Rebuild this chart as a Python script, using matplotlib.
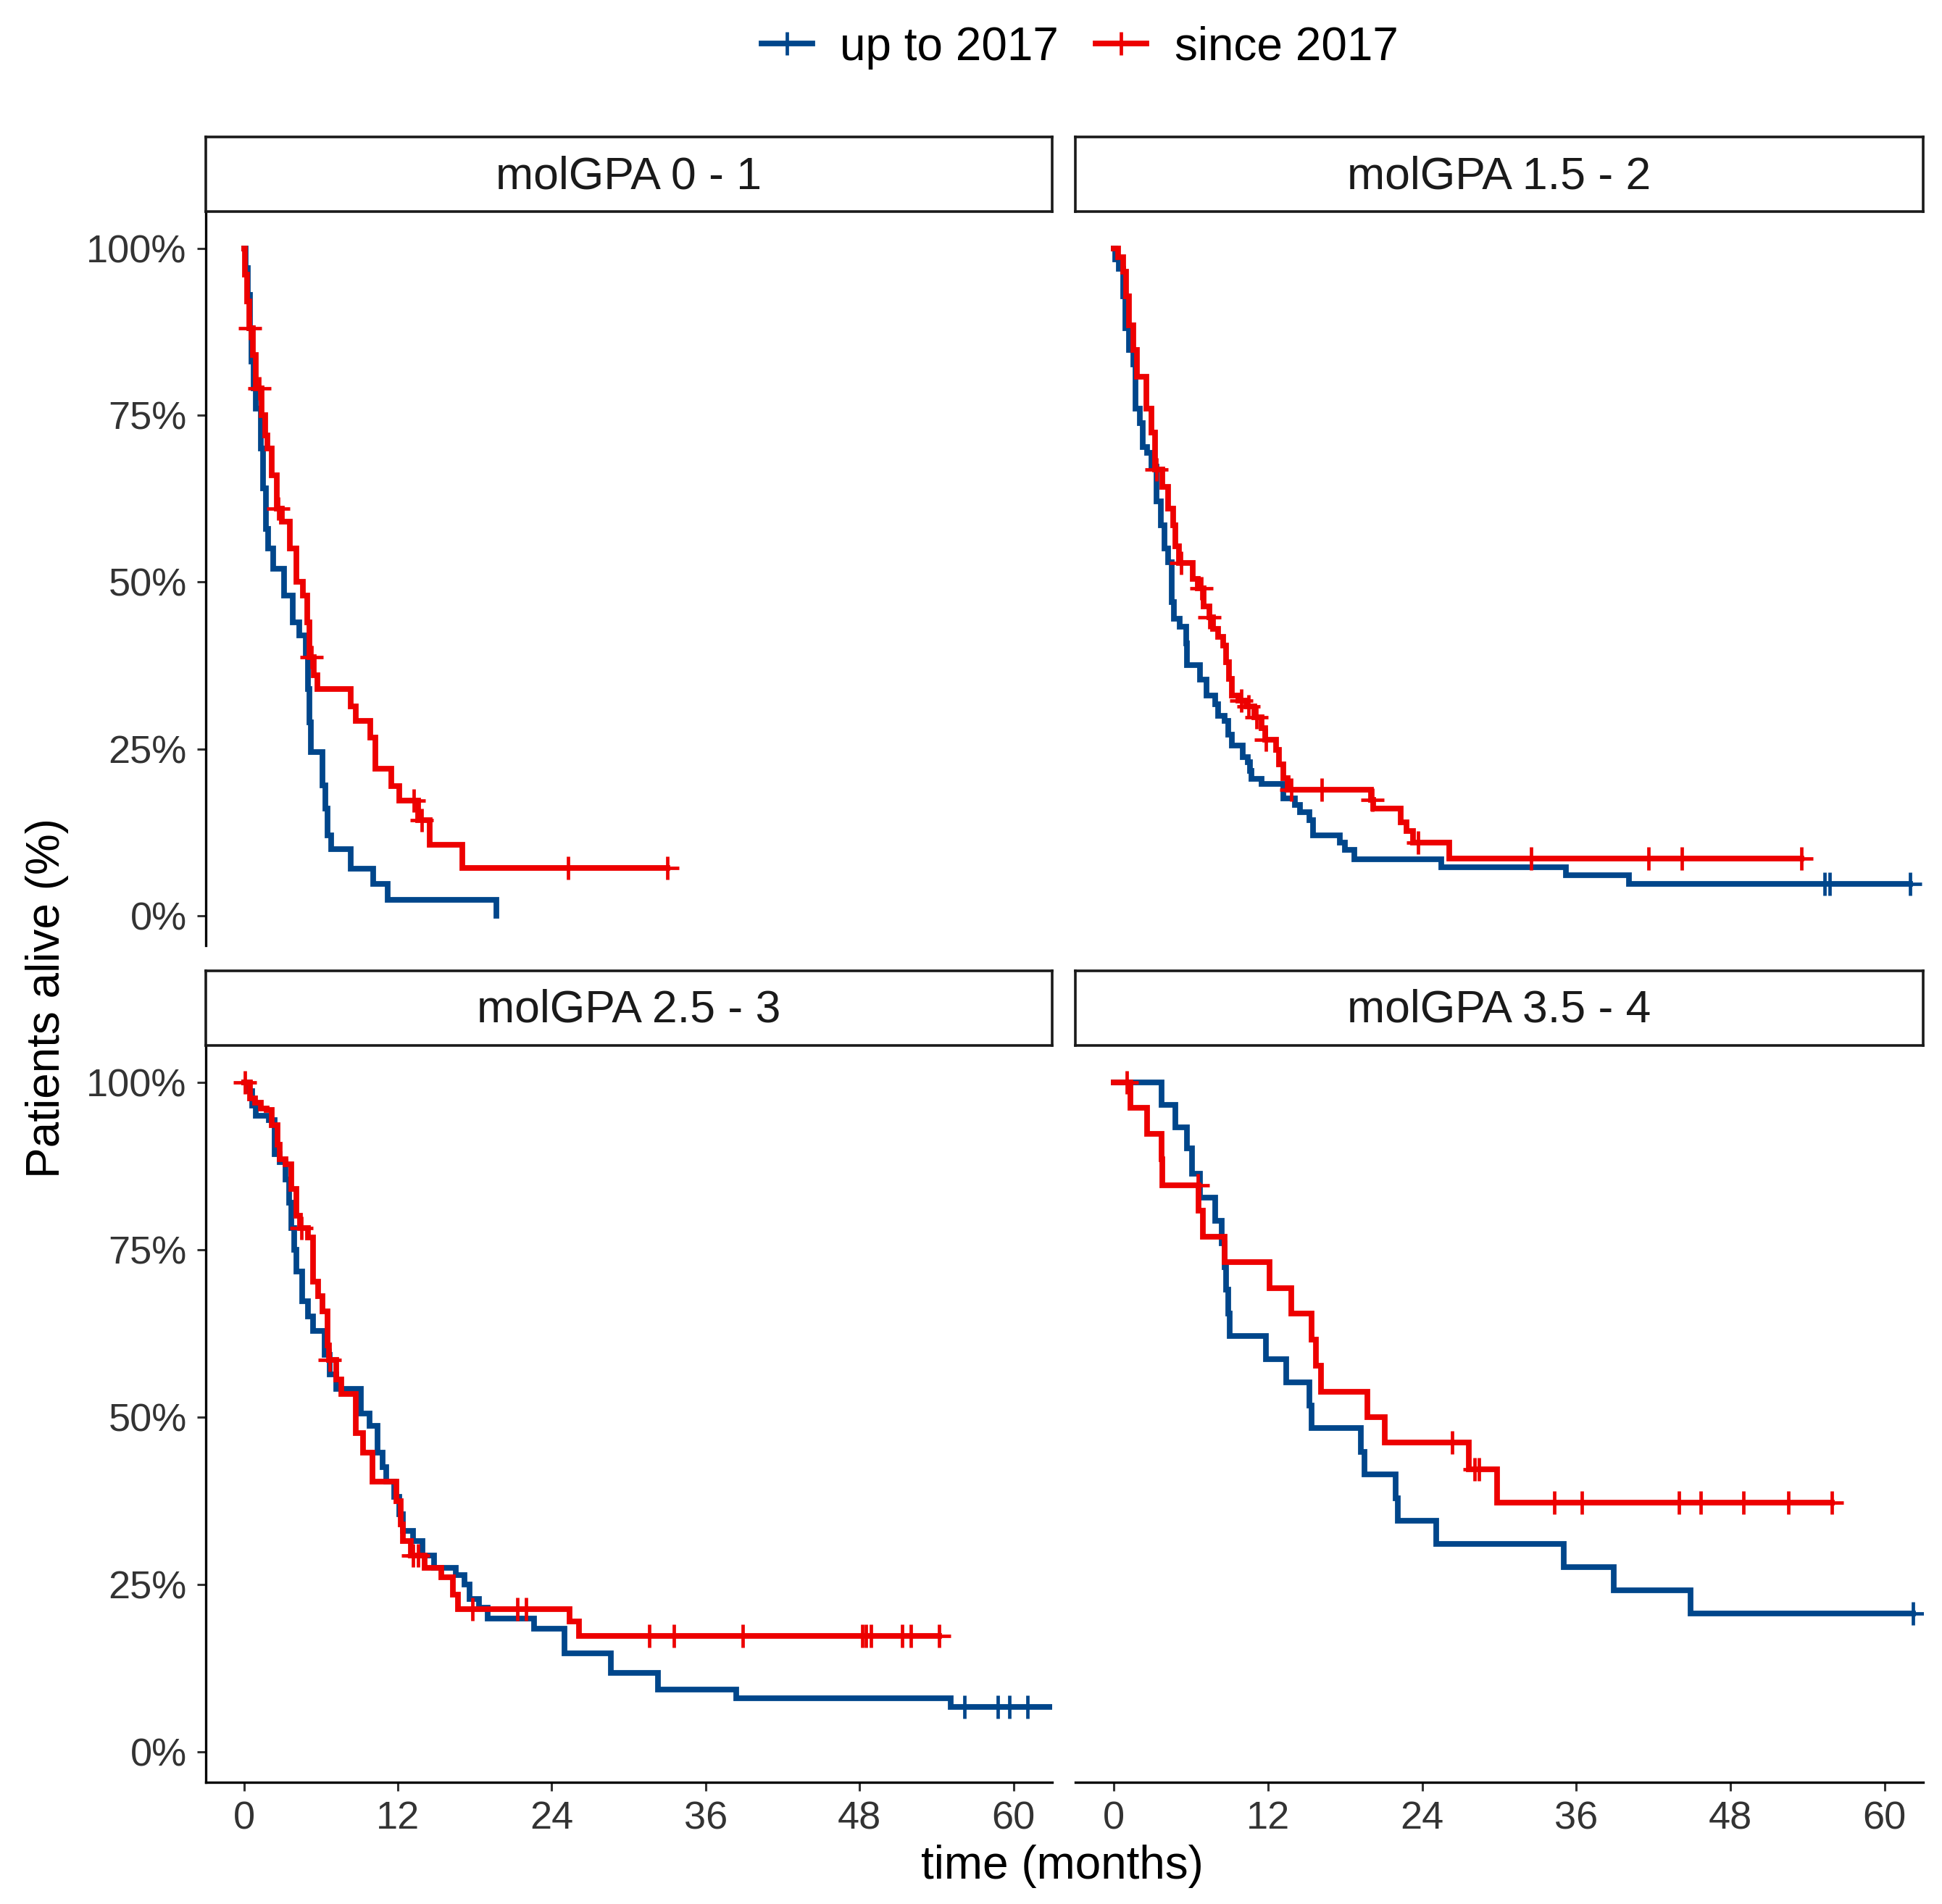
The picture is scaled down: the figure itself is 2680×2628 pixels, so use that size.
import numpy as np
import matplotlib
matplotlib.use('Agg')
import matplotlib.pyplot as plt
from matplotlib.lines import Line2D

plt.rcParams['font.family'] = ['Liberation Sans', 'DejaVu Sans']

BLUE = '#00468B'
RED = '#ED0000'

panel_titles = ['molGPA 0 - 1', 'molGPA 1.5 - 2', 'molGPA 2.5 - 3', 'molGPA 3.5 - 4']
group_labels = ['up to 2017', 'since 2017']
x_ticks = [0, 12, 24, 36, 48, 60]
y_ticks = [0, 25, 50, 75, 100]
y_tick_labels = ['0%', '25%', '50%', '75%', '100%']

# molGPA 0 - 1
g1_blue_t = [0, 0.15, 0.3, 0.45, 0.6, 0.75, 0.9, 1.3, 1.5, 1.7, 1.9, 2.3, 3.1, 3.8, 4.3, 4.8, 5.0, 5.1,
             5.2, 6.1, 6.35, 6.5, 6.8, 8.35, 10.1, 11.2, 19.7]
g1_blue_s = [100, 97, 93, 88, 83, 79, 76, 70, 64, 58, 55, 52, 48, 44, 42, 39, 34, 29,
             24.5, 19.5, 16, 12, 10, 7, 4.8, 2.4, 0]
g1_blue_cens = []
g1_red_t = [0, 0.1, 0.25, 0.4, 0.7, 0.95, 1.35, 1.68, 1.81, 2.19, 2.56, 2.94, 3.57, 4.07, 4.58, 4.95,
            5.1, 5.46, 5.71, 8.35, 8.73, 9.86, 10.23, 11.49, 12.12, 13.6, 14.5, 17.0]
g1_red_s = [100, 96, 92, 88, 84, 79, 75, 72, 70, 66, 61, 59, 55, 50, 48, 44,
            38.7, 36, 34, 31.4, 29.2, 26.7, 22, 19.4, 17.2, 14.3, 10.6, 7.2]
g1_red_cens = [0.45, 1.2, 2.7, 5.3, 13.25, 13.85, 25.3, 33.0]

# molGPA 1.5 - 2
g2_blue_t = [0, 0.1, 0.4, 0.7, 0.9, 1.15, 1.5, 1.7, 2.0, 2.25, 2.6, 2.9, 3.3, 3.65, 3.95, 4.2, 4.5, 4.65,
             5.1, 5.6, 5.7, 6.7, 7.2, 7.9, 8.1, 8.6, 8.9, 9.2, 10.0, 10.4, 10.6, 10.7, 11.5, 13.2, 14.1,
             14.5, 15.2, 15.5, 17.6, 18.0, 18.7, 25.5, 35.2, 40.1]
g2_blue_s = [100, 98.3, 96.9, 92.8, 88, 84.8, 82.6, 76, 73.8, 70.2, 69.4, 67.3, 62.1, 58.5, 55, 53, 47, 44.5,
             43.3, 40.8, 37.5, 35.4, 33, 31.7, 30, 29.2, 27.1, 25.5, 23.8, 23, 21.7, 20.5, 19.7, 17.6, 16.6,
             15.5, 14.3, 12, 11, 9.9, 8.5, 7.3, 6.1, 4.8]
g2_blue_cens = [55.3, 55.7, 62.0]
g2_red_t = [0, 0.3, 0.7, 0.95, 1.15, 1.5, 1.8, 2.5, 2.9, 3.2, 3.75, 4.2, 4.6, 4.8, 5.05, 6.15, 6.5, 7.0,
            7.4, 7.7, 8.1, 8.5, 8.75, 8.95, 9.2, 9.7, 10.3, 10.9, 11.5, 11.75, 12.6, 12.85, 13.2, 13.5,
            20.0, 20.2, 22.3, 22.75, 23.3, 26.1]
g2_red_s = [100, 98.7, 96.5, 92.8, 88.5, 84.8, 80.8, 76, 72.4, 66.9, 64.3, 61, 58.5, 55.4, 52.9, 50.5, 49, 46.3,
            44.7, 43, 41.8, 40.5, 38, 35.5, 33, 32.2, 31.4, 29.7, 28.1, 26.4, 24.8, 22.7, 20.6, 18.9,
            17.3, 16.1, 14, 12.7, 10.9, 8.6]
g2_red_cens = [3.3, 5.25, 6.8, 7.45, 9.9, 10.5, 11.1, 11.8, 13.8, 16.2, 20.1, 23.7, 32.5, 41.6, 44.2, 53.5]

# molGPA 2.5 - 3
g3_blue_t = [0, 0.4, 0.65, 0.9, 1.95, 2.4, 2.8, 3.25, 3.5, 3.7, 3.9, 4.1, 4.55, 5.0, 5.4, 6.3, 6.7, 7.2,
             9.1, 9.8, 10.4, 10.8, 11.1, 11.7, 12.1, 12.4, 13.2, 13.9, 14.8, 16.5, 17.2, 17.6, 18.3, 19.0,
             22.6, 25.0, 28.6, 32.3, 38.4, 55.1]
g3_blue_s = [100, 98.7, 96.5, 95, 94.3, 89.2, 88.1, 85.5, 82, 78.2, 75, 71.7, 67.3, 65, 62.9, 59.3, 56.4, 54.2,
             50.5, 48.7, 44.7, 42.5, 40.3, 38.1, 35.5, 33, 31.5, 29.3, 27.5, 26.4, 25, 22.8, 21.5, 19.9,
             18.4, 14.7, 11.8, 9.3, 8.0, 6.7]
g3_blue_cens = [56.2, 58.8, 59.7, 61.1]
g3_blue_end = 64.5
g3_red_t = [0, 0.45, 0.85, 1.3, 1.75, 2.15, 2.6, 2.8, 3.25, 3.7, 4.1, 4.35, 5.0, 5.4, 5.8, 6.1, 6.5, 6.65,
            7.2, 7.6, 8.7, 9.3, 10.0, 11.9, 12.2, 12.4, 13.0, 14.1, 15.4, 16.3, 16.7, 25.4, 26.1]
g3_red_s = [100, 97.6, 96.9, 96.1, 95.8, 93.6, 90.7, 88.5, 87.7, 84.1, 80.1, 78.2, 76.8, 70.2, 68, 65.8, 60.7, 58.5,
            55.6, 53.4, 47.6, 44.7, 40.3, 37.4, 34, 31.5, 29.3, 27.5, 26.1, 23.5, 21.3, 19.5, 17.3]
g3_red_cens = [0.05, 4.5, 6.7, 13.2, 13.6, 17.8, 21.3, 22.0, 31.6, 33.5, 38.9, 48.2, 48.5, 48.9, 51.3, 52.0, 54.2]

# molGPA 3.5 - 4
g4_blue_t = [0, 3.7, 4.8, 5.7, 6.1, 6.7, 7.9, 8.4, 8.6, 8.75, 8.9, 9.0, 11.8, 13.4, 15.2, 15.4, 19.2, 19.5,
             21.9, 22.1, 25.1, 35.0, 38.9, 44.9]
g4_blue_s = [100, 96.6, 93.2, 90.1, 86.3, 82.8, 79.3, 75.9, 72.4, 69, 65.5, 62.1, 58.6, 55.2, 51.7, 48.3, 44.8, 41.4,
             37.9, 34.5, 31, 27.6, 24.1, 20.7]
g4_blue_cens = [62.2]
g4_red_t = [0, 1.25, 2.6, 3.7, 3.76, 6.6, 6.9, 8.6, 12.1, 13.8, 15.4, 15.7, 16.1, 19.7, 21.1, 27.6, 29.8]
g4_red_s = [100, 96.2, 92.3, 88.5, 84.6, 80.8, 76.9, 73.1, 69.2, 65.4, 61.5, 57.7, 53.8, 50, 46.2, 42.2, 37.2]
g4_red_cens = [1.0, 6.5, 26.3, 28.1, 28.4, 34.3, 36.4, 44.0, 45.7, 49.0, 52.5, 55.9]


def km_curve(ax, t, s, cens, color, end=None):
    t = np.asarray(t, dtype=float)
    s = np.asarray(s, dtype=float)
    last = t[-1]
    if len(cens):
        last = max(last, max(cens))
    if end is not None:
        last = max(last, end)
    ax.step(np.append(t, last), np.append(s, s[-1]), where='post', color=color,
            lw=2.8, solid_joinstyle='miter')
    if len(cens):
        idx = np.searchsorted(t, cens, side='right') - 1
        ax.plot(cens, s[idx], ls='none', marker='+', ms=11.5, mew=1.7, color=color)


fig = plt.figure(figsize=(13.4, 13.14), dpi=200)

col_x = [0.1058, 0.5538]
col_w = [0.4359, 0.4365]
row_y = [0.5033, 0.0641]
row_h = [0.3856, 0.3869]
strip_y = [0.8889, 0.4510]
strip_h = 0.0392

curves = [
    [(g1_blue_t, g1_blue_s, g1_blue_cens, None), (g1_red_t, g1_red_s, g1_red_cens, None)],
    [(g2_blue_t, g2_blue_s, g2_blue_cens, None), (g2_red_t, g2_red_s, g2_red_cens, None)],
    [(g3_blue_t, g3_blue_s, g3_blue_cens, g3_blue_end), (g3_red_t, g3_red_s, g3_red_cens, None)],
    [(g4_blue_t, g4_blue_s, g4_blue_cens, None), (g4_red_t, g4_red_s, g4_red_cens, None)],
]

for i in range(4):
    r, c = divmod(i, 2)
    ax = fig.add_axes([col_x[c], row_y[r], col_w[c], row_h[r]])
    for (t, s, cens, end), color in zip(curves[i], [BLUE, RED]):
        km_curve(ax, t, s, cens, color, end)
    ax.set_xlim(-3, 63)
    ax.set_ylim(-4.5, 105.5)
    ax.set_xticks(x_ticks)
    ax.set_yticks(y_ticks)
    ax.set_yticklabels(y_tick_labels)
    for side in ['top', 'right']:
        ax.spines[side].set_visible(False)
    for side in ['left', 'bottom']:
        ax.spines[side].set_linewidth(1.2)
        ax.spines[side].set_color('black')
    ax.tick_params(length=4.3, width=1.1, colors='#333333', labelsize=19.5, pad=5)
    if r == 0:
        ax.spines['bottom'].set_visible(False)
        ax.tick_params(axis='x', bottom=False, labelbottom=False)
    if c == 1:
        ax.spines['left'].set_visible(False)
        ax.tick_params(axis='y', left=False, labelleft=False)

    sax = fig.add_axes([col_x[c], strip_y[r], col_w[c], strip_h])
    sax.set_facecolor('white')
    sax.set_xticks([])
    sax.set_yticks([])
    for sp in sax.spines.values():
        sp.set_linewidth(1.3)
        sp.set_color('#1a1a1a')
    sax.text(0.5, 0.47, panel_titles[i], ha='center', va='center', fontsize=22.5,
             color='#1a1a1a', transform=sax.transAxes)

fig.text(0.547, 0.0196, 'time (months)', ha='center', va='center', fontsize=23)
fig.text(0.0244, 0.476, 'Patients alive (%)', ha='center', va='center', rotation=90, fontsize=23)

handles = [Line2D([], [], color=BLUE, lw=2.8, marker='+', ms=11.5, mew=1.7),
           Line2D([], [], color=RED, lw=2.8, marker='+', ms=11.5, mew=1.7)]
fig.legend(handles, group_labels, loc='center', bbox_to_anchor=(0.556, 0.975), ncol=2,
           frameon=False, fontsize=23, handlelength=1.1, handletextpad=0.6, columnspacing=0.8)

fig.savefig('out.png', dpi=200)
